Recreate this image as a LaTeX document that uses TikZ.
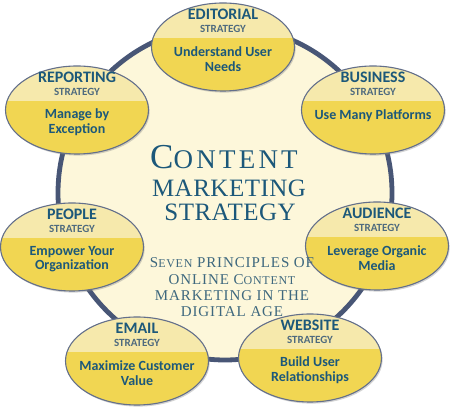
\documentclass[tikz,border=0pt]{standalone}
\usepackage{fontspec}
\newfontfamily\stratfont{Carlito}
\newfontfamily\headfont[LetterSpace=12]{Liberation Serif}
\newfontfamily\markfont[LetterSpace=2]{Liberation Serif}
\newfontfamily\leadfont[LetterSpace=6]{Liberation Serif}
\usetikzlibrary{shapes.geometric, shadows, calc}

\definecolor{rimblue}{RGB}{72,86,118}
\definecolor{discfill}{RGB}{253,247,218}
\definecolor{capyellow}{RGB}{246,233,172}
\definecolor{bodyyellow}{RGB}{241,214,82}
\definecolor{inkteal}{RGB}{28,88,122}
\definecolor{subgray}{RGB}{78,106,126}
\definecolor{leadteal}{RGB}{62,104,126}

\tikzset{
  disc/.style={circle, minimum size=334pt, inner sep=0pt, draw=rimblue, line width=4.8pt, fill=discfill},
  stratblob/.style={ellipse, minimum width=143pt, minimum height=88pt, inner sep=0pt,
    draw=rimblue!85, line width=1.1pt, fill=bodyyellow,
    drop shadow={shadow xshift=1.2pt, shadow yshift=-1.6pt, opacity=0.35},
    path picture={\fill[capyellow] ([yshift=9pt]path picture bounding box.west)
      rectangle (path picture bounding box.north east);}},
  stratname/.style={font=\stratfont\bfseries\fontsize{16}{17}\selectfont, text=inkteal,
    inner sep=0pt, text height=10.3pt, text depth=0pt, anchor=base},
  stratword/.style={font=\stratfont\bfseries\fontsize{11}{12}\selectfont, text=subgray,
    inner sep=0pt, text height=7.1pt, text depth=0pt, anchor=base},
  stratbody/.style={font=\stratfont\bfseries\fontsize{14}{14.5}\selectfont, text=inkteal, align=center, inner sep=0pt},
  headline/.style={text=inkteal, inner sep=0pt},
  leadline/.style={font=\leadfont\fontsize{15}{16.3}\selectfont, text=leadteal, align=center, inner sep=0pt}
}

\begin{document}
\begin{tikzpicture}[x=1pt, y=1pt]
  \useasboundingbox (0,0) rectangle (450,417);

  % Big disc behind everything
  \node[disc] (disc) at (225,224) {};

  % --- The seven strategy ellipses ---
  \foreach \nm/\px/\py/\ttl/\txt/\dy in {
      edit/223/370/EDITORIAL/{Understand User\\Needs}/-12,
      report/77/307/REPORTING/{Manage by\\Exception}/-12,
      business/373/307/BUSINESS/{Use Many Platforms}/-6,
      people/72/170/PEOPLE/{Empower Your\\Organization}/-12,
      audience/377/171/AUDIENCE/{Leverage Organic\\Media}/-12,
      email/137/56/EMAIL/{Maximize Customer\\Value}/-12,
      website/310/59/WEBSITE/{Build User\\Relationships}/-12}{
    \node[stratblob] (\nm) at (\px,\py) {};
    \node[stratname] (\nm-title) at ($(\nm.center)+(0,27)$) {\ttl};
    \node[stratword] (\nm-word) at ($(\nm.center)+(0,14.5)$) {STRATEGY};
    \node[stratbody] (\nm-text) at ($(\nm.center)+(0,\dy)$) {\txt};
  }

  % Centre title
  \node[headline, font=\headfont\fontsize{27}{27}\selectfont] (head1) at (224,260)
    {{\fontsize{35}{35}\selectfont C}ONTENT};
  \node[headline, font=\markfont\fontsize{25}{25}\selectfont] (head2) at (229,229) {MARKETING};
  \node[headline, font=\markfont\fontsize{25}{25}\selectfont] (head3) at (230,205) {STRATEGY};

  % Sub heading
  \node[leadline] (lead) at (232,129.5)
    {S{\fontsize{12}{12}\selectfont EVEN} PRINCIPLES OF\\ONLINE C{\fontsize{12}{12}\selectfont ONTENT}\\MARKETING IN THE\\DIGITAL AGE};

\end{tikzpicture}
\end{document}
